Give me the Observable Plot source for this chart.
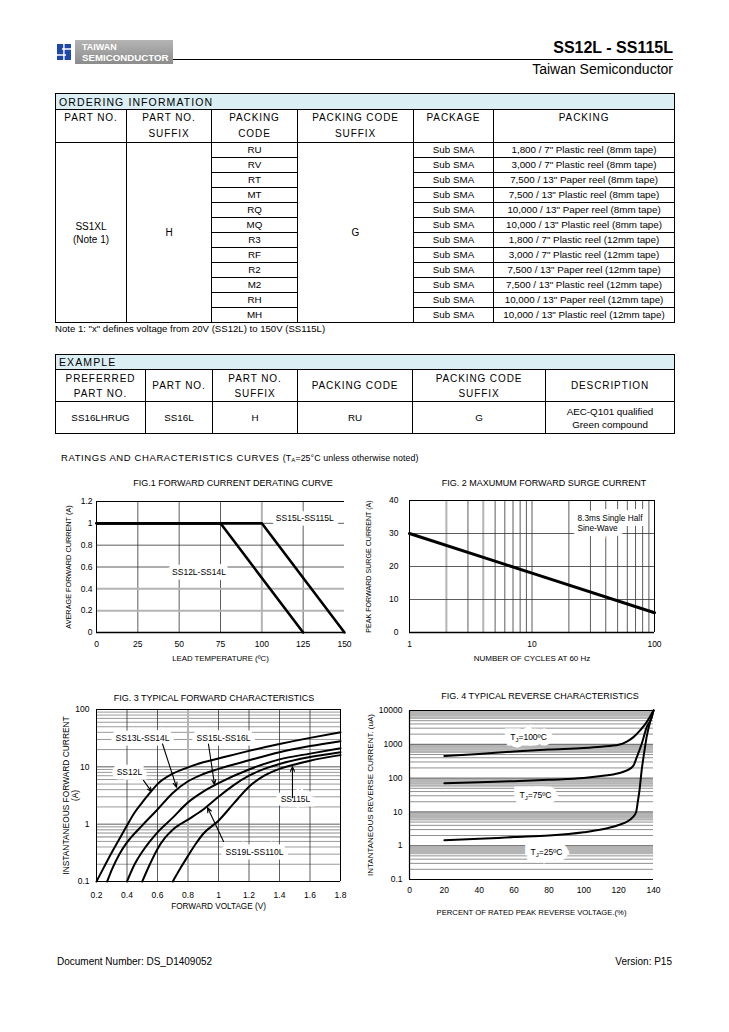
<!DOCTYPE html>
<html><head><meta charset="utf-8">
<script src="https://cdn.jsdelivr.net/npm/d3@7"></script>
<script src="https://cdn.jsdelivr.net/npm/@observablehq/plot@0.6"></script>
<style>
html,body{margin:0;padding:0;background:#fff;}
body{font-family:"Liberation Sans",Arial,Helvetica,sans-serif;color:#000;}
#page{position:relative;width:729px;height:1032px;overflow:hidden;background:#fff;}
.a{position:absolute;white-space:nowrap;}
table.t{position:absolute;border-collapse:collapse;table-layout:fixed;border:1.5px solid #000;}
table.t td{border:1px solid #000;padding:0;text-align:center;overflow:hidden;white-space:nowrap;font-size:9.8px;line-height:12px;}
table.t td.bar{background:#DAEEF3;text-align:left;padding-left:3px;font-size:10.5px;letter-spacing:1.1px;}
table.t td.hd{vertical-align:top;font-size:10px;letter-spacing:0.9px;line-height:16px;}
table.t td.hm{vertical-align:middle;font-size:10px;letter-spacing:0.9px;line-height:15px;}
.ftitle{position:absolute;font-size:9px;text-align:center;width:320px;white-space:nowrap;}
.chart{position:absolute;}
</style></head><body><div id="page"></div>
<script>
// ================= DATA =================
// Ordering information table
const orderCols = ["PART NO.", "PART NO.|SUFFIX", "PACKING|CODE", "PACKING CODE|SUFFIX", "PACKAGE", "PACKING"];
const orderPartNo = "SS1XL|(Note 1)";
const orderPartSuffix = "H";
const packingCodes = ["RU","RV","RT","MT","RQ","MQ","R3","RF","R2","M2","RH","MH"];
const packingCodeSuffix = "G";
const packageName = "Sub SMA";
const packingDescs = [
  '1,800 / 7" Plastic reel (8mm tape)',
  '3,000 / 7" Plastic reel (8mm tape)',
  '7,500 / 13" Paper reel (8mm tape)',
  '7,500 / 13" Plastic reel (8mm tape)',
  '10,000 / 13" Paper reel (8mm tape)',
  '10,000 / 13" Plastic reel (8mm tape)',
  '1,800 / 7" Plastic reel (12mm tape)',
  '3,000 / 7" Plastic reel (12mm tape)',
  '7,500 / 13" Paper reel (12mm tape)',
  '7,500 / 13" Plastic reel (12mm tape)',
  '10,000 / 13" Paper reel (12mm tape)',
  '10,000 / 13" Plastic reel (12mm tape)'
];
const orderNote = 'Note 1: "x" defines voltage from 20V (SS12L) to 150V (SS115L)';
// Example table
const exampleCols = ["PREFERRED|PART NO.", "PART NO.", "PART NO.|SUFFIX", "PACKING CODE", "PACKING CODE|SUFFIX", "DESCRIPTION"];
const exampleRow = ["SS16LHRUG", "SS16L", "H", "RU", "G", "AEC-Q101 qualified|Green compound"];

// Fig 1: forward current derating curve
const f1XTicks = [0, 25, 50, 75, 100, 125, 150];
const f1YTicks = [0, 0.2, 0.4, 0.6, 0.8, 1, 1.2];
const f1TempLow = [0, 75, 125];     // SS12L-SS14L
const f1CurLow = [1, 1, 0];
const f1TempHigh = [0, 100, 150];   // SS15L-SS115L
const f1CurHigh = [1, 1, 0];
const f1LabelText = ["SS15L-SS115L", "SS12L-SS14L"];
const f1LabelX = [126, 62];
const f1LabelY = [1.045, 0.55];

// Fig 2: maximum forward surge current
const f2XTicks = [1, 10, 100];
const f2YTicks = [0, 10, 20, 30, 40];
const f2Cycles = [1, 10, 100];
const f2Current = [30, 18, 6];
const f2Note = ["8.3ms Single Half\nSine-Wave"];
const f2NoteX = [23.5];
const f2NoteY = [33.3];

// Fig 3: typical forward characteristics
const f3XTicks = [0.2, 0.4, 0.6, 0.8, 1, 1.2, 1.4, 1.6, 1.8];
const f3YTicks = [0.1, 1, 10, 100];
const f3V_SS12 = [0.2, 0.25, 0.3, 0.35, 0.4, 0.45, 0.5, 0.55, 0.6, 0.7, 0.8, 0.9, 1.0, 1.2, 1.4, 1.6, 1.8];
const f3A_SS12 = [0.1, 0.18, 0.32, 0.55, 0.95, 1.6, 2.4, 3.5, 5.0, 7.6, 9.8, 12, 14, 19, 25, 32, 40];
const f3V_SS13 = [0.27, 0.3, 0.35, 0.4, 0.5, 0.6, 0.7, 0.8, 0.9, 1.0, 1.2, 1.4, 1.6, 1.8];
const f3A_SS13 = [0.1, 0.16, 0.3, 0.48, 0.95, 1.8, 3.5, 5.6, 7.5, 9.2, 13, 18, 23, 28];
const f3V_SS15 = [0.4, 0.45, 0.5, 0.55, 0.6, 0.7, 0.8, 0.9, 1.0, 1.2, 1.4, 1.6, 1.8];
const f3A_SS15 = [0.1, 0.2, 0.33, 0.5, 0.72, 1.3, 2.4, 3.7, 5.2, 9, 13.5, 17, 21];
const f3V_SS19 = [0.5, 0.55, 0.6, 0.65, 0.7, 0.8, 0.9, 1.0, 1.1, 1.2, 1.3, 1.4, 1.6, 1.8];
const f3A_SS19 = [0.1, 0.2, 0.37, 0.58, 0.8, 1.2, 1.8, 3.0, 4.8, 7, 9.2, 11.2, 14.8, 18];
const f3V_SS115 = [0.7, 0.75, 0.8, 0.85, 0.9, 1.0, 1.1, 1.2, 1.3, 1.4, 1.5, 1.6, 1.8];
const f3A_SS115 = [0.1, 0.17, 0.28, 0.45, 0.68, 1.15, 2.3, 4.5, 7, 9.2, 11, 12.8, 16];
const f3LabelText = ["SS13L-SS14L", "SS15L-SS16L", "SS12L", "SS115L", "SS19L-SS110L"];
const f3LabelX = [0.502, 1.033, 0.416, 1.505, 1.236];
const f3LabelY = [31, 31, 8, 2.69, 0.32];
const f3ArrowX1 = [0.508, 0.633, 0.934, 1.485, 1.033];
const f3ArrowY1 = [5.8, 25, 25, 2.9, 0.5];
const f3ArrowX2 = [0.561, 0.725, 0.974, 1.485, 0.928];
const f3ArrowY2 = [3.7, 4.4, 4.9, 10.1, 1.95];

// Fig 4: typical reverse characteristics
const f4XTicks = [0, 20, 40, 60, 80, 100, 120, 140];
const f4YTicks = [0.1, 1, 10, 100, 1000, 10000];
const f4P_100 = [20, 40, 60, 80, 100, 110, 120, 124.7, 128.5, 132.3, 136.1, 140];
const f4I_100 = [450, 520, 610, 700, 780, 850, 964, 1200, 1630, 2580, 4520, 10000];
const f4P_75 = [20, 40, 60, 80, 100, 110, 120, 124.7, 128.5, 130.4, 133.2, 136.1, 139, 140];
const f4I_75 = [70, 76, 81, 89, 100, 115, 140, 168, 234, 417, 1020, 3200, 6300, 10000];
const f4P_25 = [20, 40, 60, 80, 100, 110, 120, 125, 128, 130, 131, 132, 133.3, 134.5, 136.2, 138, 140];
const f4I_25 = [1.45, 1.6, 1.8, 2.0, 2.5, 3.0, 4.1, 5.2, 6.9, 9.8, 20, 45, 186, 500, 1800, 4500, 10000];
const f4LabelText = ["T_J=100ºC", "T_J=75ºC", "T_J=25ºC"];
const f4LabelX = [68.3, 72.3, 78.6];
const f4LabelY = [1589, 30.5, 0.63];

// ================= BUILD =================
const page = document.getElementById("page");
function el(tag, cls, style, html) {
  const e = document.createElement(tag);
  if (cls) e.className = cls;
  if (style) e.setAttribute("style", style);
  if (html != null) e.innerHTML = html;
  return e;
}
const br = s => s.split("|").join("<br>");
const zip = (xs, ys) => xs.map((x, i) => ({x, y: ys[i]}));
const labels = (ts, xs, ys) => ts.map((t, i) => ({t, x: xs[i], y: ys[i]}));

// Header
page.appendChild(el("div", "a", "left:56px;top:43px;width:16px;height:18px;",
 '<svg width="16" height="18" viewBox="0 0 16 18"><rect x="0" y="0" width="16" height="18" fill="#fff"/>' +
 '<path d="M1 1h14v4.2H6v1.6h9V17H1v-4.2h9v-1.6H1z" fill="#1f47a8"/><rect x="7.2" y="0" width="1.4" height="18" fill="#fff"/></svg>'));
page.appendChild(el("div", "a", "left:75px;top:40px;width:98px;height:24px;background:linear-gradient(#b4b4b4,#8c8c8c);"));
page.appendChild(el("div", "a", "left:82px;top:41.5px;font-size:9px;font-weight:bold;color:#fff;line-height:11px;", "TAIWAN"));
page.appendChild(el("div", "a", "left:82px;top:52px;font-size:9.7px;font-weight:bold;color:#fff;line-height:11px;", "SEMICONDUCTOR"));
page.appendChild(el("div", "a", "left:173px;top:59px;width:500px;height:1px;background:#000;"));
page.appendChild(el("div", "a", "right:56px;top:38px;font-size:16px;font-weight:bold;line-height:19px;", "SS12L - SS115L"));
page.appendChild(el("div", "a", "right:56px;top:61px;font-size:14px;line-height:17px;", "Taiwan Semiconductor"));

// Ordering table
(function () {
  const t = el("table", "t", "left:55px;top:93px;width:619px;");
  const cg = el("colgroup");
  [71, 85, 86, 116, 80, 181].forEach(w => cg.appendChild(el("col", null, "width:" + w + "px")));
  t.appendChild(cg);
  let tr = el("tr", null, "height:16px");
  const bar = el("td", "bar", null, "ORDERING INFORMATION"); bar.colSpan = 6; tr.appendChild(bar); t.appendChild(tr);
  tr = el("tr", null, "height:33px");
  orderCols.forEach(c => tr.appendChild(el("td", "hd", null, br(c))));
  t.appendChild(tr);
  packingCodes.forEach((code, i) => {
    tr = el("tr", null, "height:15px");
    if (i === 0) {
      const a = el("td", null, "font-size:10px;line-height:13px;", br(orderPartNo)); a.rowSpan = 12; tr.appendChild(a);
      const b = el("td", null, "font-size:10px;", orderPartSuffix); b.rowSpan = 12; tr.appendChild(b);
    }
    tr.appendChild(el("td", null, null, code));
    if (i === 0) { const c = el("td", null, "font-size:10px;", packingCodeSuffix); c.rowSpan = 12; tr.appendChild(c); }
    tr.appendChild(el("td", null, null, packageName));
    tr.appendChild(el("td", null, null, packingDescs[i]));
    t.appendChild(tr);
  });
  page.appendChild(t);
  page.appendChild(el("div", "a", "left:55px;top:323px;font-size:9.6px;line-height:12px;", orderNote));
})();

// Example table
(function () {
  const t = el("table", "t", "left:55px;top:354px;width:619px;");
  const cg = el("colgroup");
  [90, 67, 85, 115, 133, 129].forEach(w => cg.appendChild(el("col", null, "width:" + w + "px")));
  t.appendChild(cg);
  let tr = el("tr", null, "height:15px");
  const bar = el("td", "bar", null, "EXAMPLE"); bar.colSpan = 6; tr.appendChild(bar); t.appendChild(tr);
  tr = el("tr", null, "height:32px");
  exampleCols.forEach(c => tr.appendChild(el("td", "hm", null, br(c))));
  t.appendChild(tr);
  tr = el("tr", null, "height:32px");
  exampleRow.forEach(c => tr.appendChild(el("td", null, "line-height:13px;", br(c))));
  t.appendChild(tr);
  page.appendChild(t);
})();

// Section heading
page.appendChild(el("div", "a", "left:61px;top:452px;font-size:9.5px;letter-spacing:0.6px;line-height:12px;",
  'RATINGS AND CHARACTERISTICS CURVES <span style="font-size:8.8px;letter-spacing:0.1px">(T<sub style="font-size:6px;vertical-align:-1px">A</sub>=25°C unless otherwise noted)</span>'));

// Chart helpers
const baseStyle = {fontFamily: "Liberation Sans, Arial, sans-serif", fontSize: "8.5px", background: "transparent", overflow: "visible"};
const DARK = "#333", LIGHT = "#b4b4b4";
function place(svg, left, top) {
  const d = el("div", "chart", "left:" + left + "px;top:" + top + "px;");
  d.appendChild(svg); page.appendChild(d);
}
function title(text, cx, cy) {
  page.appendChild(el("div", "ftitle", "left:" + (cx - 160) + "px;top:" + (cy - 6) + "px;line-height:12px;", text));
}
function haloText(data, opts, halo) {
  return [
    Plot.text(data, {...opts, fill: "#fff", stroke: "#fff", strokeWidth: halo, strokeLinejoin: "miter"}),
    Plot.text(data, {...opts, fill: "#000"})
  ];
}
function logGrid(domain) {
  const ticks = d3.scaleLog().domain(domain).ticks();
  const mant = v => Math.round(v / Math.pow(10, Math.floor(Math.log10(v) + 1e-9)));
  return {
    decade: ticks.filter(v => mant(v) === 1 && v > domain[0] && v < domain[1]),
    low: ticks.filter(v => mant(v) >= 2 && mant(v) <= 5),
    high: ticks.filter(v => mant(v) >= 6)
  };
}
const yLabel = (text, dx, fontSize, extra) => Plot.text([text], {frameAnchor: "left", textAnchor: "middle", lineAnchor: "middle", rotate: -90, dx, fontSize, ...(extra || {})});
const xLabel = (text, dy, fontSize) => Plot.text([text], {frameAnchor: "bottom", lineAnchor: "middle", dy, fontSize});
const fmt = d => String(d);

// ---- Fig 1 ----
title("FIG.1 FORWARD CURRENT DERATING CURVE", 233, 483);
place(Plot.plot({
  width: 300, height: 175, marginLeft: 36, marginRight: 16, marginTop: 6, marginBottom: 38,
  style: baseStyle,
  x: {domain: [0, 150]}, y: {domain: [0, 1.2]},
  marks: [
    Plot.ruleX([25, 50, 75, 125], {stroke: DARK, strokeWidth: 0.8}),
    Plot.ruleX([100], {stroke: LIGHT, strokeWidth: 2}),
    Plot.ruleY([0.6, 0.8, 1], {stroke: DARK, strokeWidth: 0.8}),
    Plot.ruleY([0.2, 0.4], {stroke: LIGHT, strokeWidth: 2}),
    Plot.ruleX([0], {stroke: "#000", strokeWidth: 1}),
    Plot.ruleY([0], {stroke: "#000", strokeWidth: 1.5}),
    Plot.ruleY([1.2], {stroke: "#000", strokeWidth: 1}),
    Plot.axisX({ticks: f1XTicks, tickFormat: fmt, tickSize: 0, tickPadding: 8, label: null}),
    Plot.axisY({ticks: f1YTicks, tickFormat: fmt, tickSize: 0, tickPadding: 4, label: null}),
    Plot.line(zip(f1TempLow, f1CurLow), {x: "x", y: "y", stroke: "#000", strokeWidth: 2.6}),
    Plot.line(zip(f1TempHigh, f1CurHigh), {x: "x", y: "y", stroke: "#000", strokeWidth: 2.6}),
    ...haloText(labels(f1LabelText, f1LabelX, f1LabelY), {x: "x", y: "y", text: "t", fontSize: 8.5}, 9),
    xLabel("LEAD TEMPERATURE (ºC)", 26, 7.8),
    yLabel("AVERAGE FORWARD CURRENT (A)", -28, 7.3)
  ]
}), 60, 495);

// ---- Fig 2 ----
title("FIG. 2 MAXUMUM FORWARD SURGE CURRENT", 544, 483);
place(Plot.plot({
  width: 310, height: 175, marginLeft: 49, marginRight: 16, marginTop: 5, marginBottom: 38,
  style: baseStyle,
  x: {type: "log", domain: [1, 100]}, y: {domain: [0, 40]},
  marks: [
    Plot.ruleX([3, 5, 6, 7, 8, 9, 10, 20, 30, 40, 50, 60, 70, 80, 90], {stroke: DARK, strokeWidth: 0.8}),
    Plot.ruleX([2, 4], {stroke: LIGHT, strokeWidth: 2}),
    Plot.ruleY([10, 20, 30], {stroke: DARK, strokeWidth: 0.8}),
    Plot.ruleX([1, 100], {stroke: "#000", strokeWidth: 1}),
    Plot.ruleY([0], {stroke: "#000", strokeWidth: 1.3}),
    Plot.ruleY([40], {stroke: "#000", strokeWidth: 1}),
    Plot.axisX({ticks: f2XTicks, tickFormat: fmt, tickSize: 0, tickPadding: 8, label: null}),
    Plot.axisY({ticks: f2YTicks, tickFormat: fmt, tickSize: 0, tickPadding: 11, label: null}),
    Plot.line(zip(f2Cycles, f2Current), {x: "x", y: "y", stroke: "#000", strokeWidth: 3}),
    ...haloText(labels(f2Note, f2NoteX, f2NoteY), {x: "x", y: "y", text: "t", textAnchor: "start", fontSize: 8.3, lineHeight: 1.2}, 10),
    xLabel("NUMBER OF CYCLES AT 60 Hz", 26, 8),
    yLabel("PEAK FORWARD SURGE CURRENT (A)", -41, 7.1)
  ]
}), 360, 495);

// ---- Fig 3 ----
title("FIG. 3 TYPICAL FORWARD CHARACTERISTICS", 214, 698);
const g3 = logGrid([0.1, 100]);
place(Plot.plot({
  width: 300, height: 215, marginLeft: 36, marginRight: 20, marginTop: 4, marginBottom: 39,
  style: baseStyle,
  x: {domain: [0.2, 1.8]}, y: {type: "log", domain: [0.1, 100]},
  marks: [
    Plot.ruleY(g3.low.concat(g3.high.filter(v => v >= 1)), {stroke: "#555", strokeWidth: 0.6}),
    Plot.ruleY(g3.high.filter(v => v < 1), {stroke: LIGHT, strokeWidth: 1.6}),
    Plot.ruleY(g3.decade, {stroke: DARK, strokeWidth: 0.8}),
    Plot.ruleX([0.4, 0.6, 1, 1.2, 1.4, 1.6], {stroke: DARK, strokeWidth: 0.8}),
    Plot.ruleX([0.8], {stroke: LIGHT, strokeWidth: 2}),
    Plot.ruleX([0.2, 1.8], {stroke: "#000", strokeWidth: 1}),
    Plot.ruleY([0.1, 100], {stroke: "#000", strokeWidth: 1}),
    Plot.axisX({ticks: f3XTicks, tickFormat: fmt, tickSize: 0, tickPadding: 10, label: null}),
    Plot.axisY({ticks: f3YTicks, tickFormat: fmt, tickSize: 0, tickPadding: 7, label: null}),
    ...[[f3V_SS12, f3A_SS12], [f3V_SS13, f3A_SS13], [f3V_SS15, f3A_SS15], [f3V_SS19, f3A_SS19], [f3V_SS115, f3A_SS115]]
      .map(([v, a]) => Plot.line(zip(v, a), {x: "x", y: "y", stroke: "#000", strokeWidth: 2, curve: "monotone-x"})),
    ...haloText(labels(f3LabelText, f3LabelX, f3LabelY), {x: "x", y: "y", text: "t", fontSize: 8.5}, 9),
    Plot.arrow(f3ArrowX1.map((x1, i) => ({x1, y1: f3ArrowY1[i], x2: f3ArrowX2[i], y2: f3ArrowY2[i]})), {x1: "x1", y1: "y1", x2: "x2", y2: "y2", stroke: "#000", strokeWidth: 1.1, headLength: 7, headAngle: 45}),
    xLabel("FORWARD VOLTAGE (V)", 25, 8.2),
    yLabel("INSTANTANEOUS FORWARD CURRENT\n(A)", -26, 8.4, {lineHeight: 1.05})
  ]
}), 60, 705);

// ---- Fig 4 ----
title("FIG. 4 TYPICAL REVERSE CHARACTERISTICS", 540, 696);
const g4 = logGrid([0.1, 10000]);
const fig4 = Plot.plot({
  width: 310, height: 215, marginLeft: 49, marginRight: 17, marginTop: 5, marginBottom: 41,
  style: baseStyle,
  x: {domain: [0, 140]}, y: {type: "log", domain: [0.1, 10000]},
  marks: [
    Plot.ruleY(g4.high, {stroke: LIGHT, strokeWidth: 2.2}),
    Plot.ruleY(g4.low, {stroke: "#444", strokeWidth: 0.6}),
    Plot.ruleY(g4.decade, {stroke: DARK, strokeWidth: 0.8}),
    Plot.ruleX([0], {stroke: "#000", strokeWidth: 1.2}),
    Plot.ruleY([0.1, 10000], {stroke: "#000", strokeWidth: 1}),
    Plot.axisX({ticks: f4XTicks, tickFormat: fmt, tickSize: 0, tickPadding: 7, label: null}),
    Plot.axisY({ticks: f4YTicks, tickFormat: fmt, tickSize: 0, tickPadding: 7, label: null}),
    ...[[f4P_100, f4I_100], [f4P_75, f4I_75], [f4P_25, f4I_25]]
      .map(([p, i]) => Plot.line(zip(p, i), {x: "x", y: "y", stroke: "#000", strokeWidth: 2, curve: "monotone-x"})),
    ...haloText(labels(f4LabelText, f4LabelX, f4LabelY), {x: "x", y: "y", text: "t", fontSize: 8.5}, 11),
    xLabel("PERCENT OF RATED PEAK REVERSE VOLTAGE.(%)", 33, 7.7),
    yLabel("INTANTANEOUS REVERSE CURRENT. (uA)", -39, 8)
  ]
});
const SVGNS = "http://www.w3.org/2000/svg";
fig4.querySelectorAll("text").forEach(t => {
  const s = t.textContent;
  if (s.startsWith("T_J")) {
    while (t.firstChild) t.removeChild(t.firstChild);
    t.appendChild(document.createTextNode("T"));
    const sub = document.createElementNS(SVGNS, "tspan");
    sub.setAttribute("dy", "2"); sub.setAttribute("font-size", "6"); sub.textContent = "J";
    const rest = document.createElementNS(SVGNS, "tspan");
    rest.setAttribute("dy", "-2"); rest.textContent = s.slice(3);
    t.appendChild(sub); t.appendChild(rest);
  }
});
place(fig4, 360, 705);

// Footer
page.appendChild(el("div", "a", "left:57px;top:956px;font-size:10px;line-height:12px;", "Document Number: DS_D1409052"));
page.appendChild(el("div", "a", "right:57px;top:956px;font-size:10px;line-height:12px;", "Version: P15"));
</script></body></html>
